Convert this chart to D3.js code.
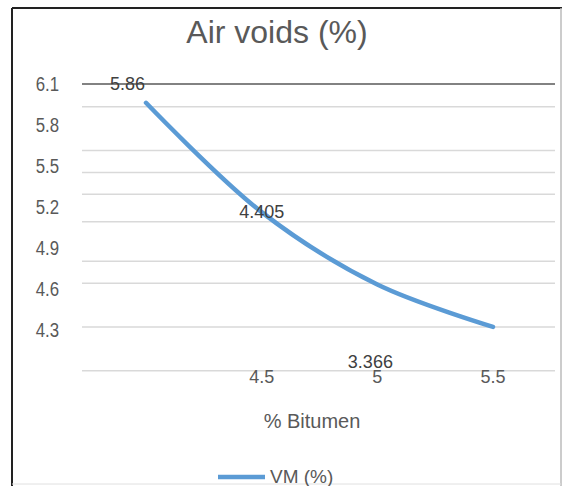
<!DOCTYPE html>
<html>
<head>
<meta charset="utf-8">
<script src="https://cdn.jsdelivr.net/npm/d3@7"></script>
<style>
  body { margin: 0; background: #fff; }
  text { font-family: "Liberation Sans", Arial, sans-serif; fill: #595959; }
</style>
</head>
<body>
<svg id="chart" width="565" height="486"></svg>
<script>
// bitumen content vs air voids
var bitumen = [4, 4.5, 5, 5.5];
var airVoids = [5.97, 5.17, 4.64, 4.33];

var yTicks = [6.1, 5.8, 5.5, 5.2, 4.9, 4.6, 4.3];
var xTicks = [4.5, 5, 5.5];
// gridlines as they sit in the picture (not on the ticks)
var gridValues = [5.94, 5.62, 5.46, 5.30, 5.10, 4.81, 4.65, 4.33, 4.01];

var labelText = ['5.86', '4.405', '3.366'];
var labelX = [3.92, 4.5, 4.97];
var labelY = [6.063, 5.127, 4.029];

var svg = d3.select('#chart');

var x = d3.scaleLinear().domain([4, 5.5]).range([146, 493]);
var y = d3.scaleLinear().domain([4.3, 6.1]).range([331, 85]);

// frame
svg.append('rect').attr('x', 0).attr('y', 0).attr('width', 565).attr('height', 486).attr('fill', '#fff');
svg.append('line').attr('x1', 12).attr('x2', 562).attr('y1', 8).attr('y2', 8)
    .attr('stroke', '#222').attr('stroke-width', 2);
svg.append('line').attr('x1', 12).attr('x2', 12).attr('y1', 8).attr('y2', 486)
    .attr('stroke', '#222').attr('stroke-width', 2);
svg.append('line').attr('x1', 561).attr('x2', 561).attr('y1', 8).attr('y2', 486)
    .attr('stroke', '#bbb').attr('stroke-width', 1.5);
svg.append('line').attr('x1', 12).attr('x2', 561).attr('y1', 484).attr('y2', 484)
    .attr('stroke', '#e0e0e0').attr('stroke-width', 1);

svg.append('text')
    .attr('x', 277).attr('y', 43)
    .attr('text-anchor', 'middle')
    .style('font-size', '32px')
    .text('Air voids (%)');

svg.selectAll('line.grid')
    .data(gridValues)
    .enter().append('line')
        .attr('class', 'grid')
        .attr('x1', 82).attr('x2', 555)
        .attr('y1', d => y(d)).attr('y2', d => y(d))
        .attr('stroke', '#d9d9d9')
        .attr('stroke-width', 1.5);

// top axis line
svg.append('line')
    .attr('x1', 82).attr('x2', 555)
    .attr('y1', y(6.1) - 1).attr('y2', y(6.1) - 1)
    .attr('stroke', '#595959').attr('stroke-width', 1.5);

svg.selectAll('text.ytick')
    .data(yTicks)
    .enter().append('text')
        .attr('class', 'ytick')
        .attr('text-anchor', 'end')
        .attr('dominant-baseline', 'middle')
        .attr('transform', d => 'translate(59,' + y(d) + ') scale(0.8,1)')
        .style('font-size', '21px')
        .text(d => d);

svg.selectAll('text.xtick')
    .data(xTicks)
    .enter().append('text')
        .attr('class', 'xtick')
        .attr('text-anchor', 'middle')
        .attr('x', d => x(d))
        .attr('y', 383)
        .style('font-size', '18px')
        .text(d => d);

var line = d3.line()
    .x((d, i) => x(bitumen[i]))
    .y(d => y(d))
    .curve(d3.curveCatmullRom);

svg.append('path')
    .datum(airVoids)
    .attr('d', line)
    .attr('fill', 'none')
    .attr('stroke', '#5b9bd5')
    .attr('stroke-width', 4.5)
    .attr('stroke-linecap', 'round');

svg.selectAll('text.label')
    .data(labelText)
    .enter().append('text')
        .attr('class', 'label')
        .attr('text-anchor', 'middle')
        .attr('x', (d, i) => x(labelX[i]))
        .attr('y', (d, i) => y(labelY[i]))
        .style('font-size', '18px')
        .style('fill', '#404040')
        .text(d => d);

svg.append('text')
    .attr('x', 312).attr('y', 428)
    .attr('text-anchor', 'middle')
    .style('font-size', '20px')
    .text('% Bitumen');

// legend
svg.append('line')
    .attr('x1', 218).attr('x2', 265)
    .attr('y1', 477).attr('y2', 477)
    .attr('stroke', '#5b9bd5').attr('stroke-width', 4.5);
svg.append('text')
    .attr('x', 270).attr('y', 483)
    .style('font-size', '19px')
    .text('VM (%)');
</script>
</body>
</html>
